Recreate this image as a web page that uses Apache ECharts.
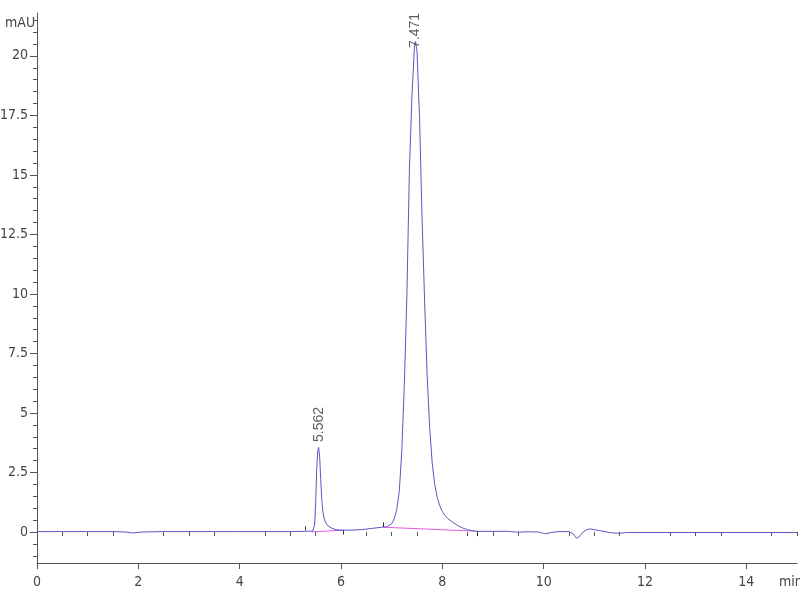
<!DOCTYPE html>
<html>
<head>
<meta charset="utf-8">
<script src="https://cdn.jsdelivr.net/npm/echarts@6/dist/echarts.min.js"></script>
<style>
  html, body { margin: 0; padding: 0; background: #fff; }
  #chart { width: 800px; height: 600px; }
</style>
</head>
<body>
<div id="chart"></div>
<script>
// chromatogram trace (time in min, signal in mAU)
var times = [
  0, 0.5, 1.0, 1.5, 1.75, 1.9, 2.05, 2.5, 3.0, 3.5, 4.0, 4.5, 5.0, 5.3, 5.44,
  5.48, 5.50, 5.52, 5.54, 5.56, 5.58, 5.60, 5.62, 5.64, 5.67, 5.70, 5.75, 5.82, 5.90,
  6.00, 6.20, 6.40, 6.60, 6.80, 6.90, 7.00, 7.05, 7.10, 7.15, 7.20, 7.25, 7.30, 7.35,
  7.40, 7.45, 7.47, 7.50, 7.55, 7.60, 7.65, 7.70, 7.75, 7.80, 7.85, 7.90, 7.95, 8.00,
  8.05, 8.10, 8.20, 8.30, 8.40, 8.50, 8.60, 8.70, 9.0, 9.3, 9.45, 9.55, 9.7, 9.9, 10.0,
  10.05, 10.15, 10.3, 10.5, 10.58, 10.65, 10.7, 10.78, 10.85, 10.92, 11.0, 11.15, 11.3,
  11.45, 11.55, 11.65, 12.0, 13.0, 13.7, 15.0
];
var signal = [
  0.02, 0.02, 0.02, 0.02, 0.0, -0.04, 0.0, 0.02, 0.02, 0.02, 0.02, 0.02, 0.02, 0.03, 0.04,
  0.3, 1.2, 2.6, 3.4, 3.55, 3.1, 2.2, 1.4, 0.9, 0.55, 0.38, 0.25, 0.16, 0.1,
  0.08, 0.08, 0.1, 0.15, 0.2, 0.22, 0.35, 0.55, 0.95, 1.7, 3.4, 6.2, 9.9, 15.2,
  18.3, 20.4, 20.6, 20.2, 17.4, 13.2, 9.7, 6.6, 4.4, 2.9, 2.0, 1.45, 1.1, 0.86,
  0.7, 0.58, 0.42, 0.28, 0.17, 0.1, 0.05, 0.03, 0.03, 0.03, 0.0, 0.0, 0.01, 0.0, -0.06,
  -0.07, -0.02, 0.02, 0.02, -0.08, -0.26, -0.2, 0.0, 0.1, 0.13, 0.1, 0.04, -0.02,
  -0.05, -0.04, -0.02, -0.02, -0.02, -0.02, -0.02
];

// integration baselines [t0, y0, t1, y1]
var baselines = [
  [5.43, 0.01, 6.05, 0.08],
  [6.85, 0.2, 8.65, 0.04]
];
// integration event marks [t, yTop, yBottom]
var events = [
  [5.29, 0.24, 0.07],
  [6.05, 0.07, -0.11],
  [6.84, 0.41, 0.21],
  [8.68, 0.04, -0.17]
];

// peak labels
var peakTimes = [5.562, 7.471];
var peakLabelY = [3.7, 20.25];
var peakNames = ['5.562', '7.471'];

// axis ticks
var xMajor = [0, 2, 4, 6, 8, 10, 12, 14];
var xMinor = [0.5, 1, 1.5, 2.5, 3, 3.5, 4.5, 5, 5.5, 6.5, 7, 7.5, 8.5, 9, 9.5,
  10.5, 11, 11.5, 12.5, 13, 13.5, 14.5, 15];
var yMajor = [0, 2.5, 5, 7.5, 10, 12.5, 15, 17.5, 20];
var yMinor = [-1, -0.5, 0.5, 1, 1.5, 2, 3, 3.5, 4, 4.5, 5.5, 6, 6.5, 7, 8, 8.5, 9, 9.5,
  10.5, 11, 11.5, 12, 13, 13.5, 14, 14.5, 15.5, 16, 16.5, 17, 18, 18.5, 19, 19.5,
  20.5, 21, 21.5];

var X_MIN = 0, X_MAX = 15, Y_MIN = -1.3, Y_MAX = 21.8;
var axisColor = '#555';
var fontStack = '"DejaVu Sans Condensed", "Liberation Sans", sans-serif';
var labelFont = { color: '#444', fontSize: 14, fontFamily: fontStack };

var chart = echarts.init(document.getElementById('chart'));

var trace = times.map(function (t, i) { return [t, signal[i]]; });

var series = [{
  type: 'line',
  data: trace,
  showSymbol: false,
  symbol: 'none',
  lineStyle: { color: '#5858c4', width: 1 },
  z: 3,
  animation: false
}];

baselines.forEach(function (b) {
  series.push({
    type: 'line',
    data: [[b[0], b[1]], [b[2], b[3]]],
    symbol: 'none',
    lineStyle: { color: '#e05ce0', width: 1 },
    z: 2,
    animation: false
  });
});

series.push({
  type: 'line',
  data: [],
  symbol: 'none',
  markLine: {
    symbol: 'none',
    silent: true,
    animation: false,
    label: { show: false },
    lineStyle: { color: '#333', width: 1, type: 'solid' },
    data: events.map(function (e) {
      return [{ coord: [e[0], e[1]] }, { coord: [e[0], e[2]] }];
    })
  }
});

series.push({
  type: 'scatter',
  symbolSize: 0,
  data: peakTimes.map(function (t, i) { return [t, peakLabelY[i], peakNames[i]]; }),
  label: {
    show: true,
    position: 'top',
    distance: 2,
    rotate: 90,
    align: 'left',
    verticalAlign: 'middle',
    color: '#333',
    fontSize: 14,
    fontFamily: '"Liberation Sans", Arial, sans-serif',
    formatter: function (p) { return p.value[2]; }
  },
  z: 5,
  animation: false
});

chart.setOption({
  backgroundColor: '#fff',
  animation: false,
  grid: { left: 37, right: 3, top: 13, bottom: 37, containLabel: false, outerBoundsMode: 'none' },
  xAxis: [{
    type: 'value',
    min: X_MIN,
    max: X_MAX,
    splitLine: { show: false },
    axisLine: { onZero: false, lineStyle: { color: axisColor, width: 1 } },
    axisTick: { customValues: xMajor, length: 6, lineStyle: { color: axisColor } },
    axisLabel: Object.assign({ customValues: xMajor, margin: 12 }, labelFont)
  }, {
    type: 'value',
    position: 'bottom',
    min: X_MIN,
    max: X_MAX,
    splitLine: { show: false },
    axisLine: { show: false },
    axisTick: { customValues: xMinor, length: 4, lineStyle: { color: axisColor } },
    axisLabel: { show: false }
  }],
  yAxis: [{
    type: 'value',
    min: Y_MIN,
    max: Y_MAX,
    splitLine: { show: false },
    axisLine: { show: true, onZero: false, lineStyle: { color: axisColor, width: 1 } },
    axisTick: { show: true, customValues: yMajor, length: 7, lineStyle: { color: axisColor } },
    axisLabel: Object.assign({ customValues: yMajor, margin: 9 }, labelFont)
  }, {
    type: 'value',
    position: 'left',
    min: Y_MIN,
    max: Y_MAX,
    splitLine: { show: false },
    axisLine: { show: false },
    axisTick: { show: true, customValues: yMinor, length: 4, lineStyle: { color: axisColor } },
    axisLabel: { show: false }
  }],
  graphic: [{
    type: 'text',
    left: 5,
    top: 16,
    style: { text: 'mAU', fill: '#444', font: '14px ' + fontStack }
  }, {
    type: 'text',
    left: 779,
    top: 575,
    style: { text: 'min', fill: '#444', font: '14px ' + fontStack }
  }],
  series: series
});
</script>
</body>
</html>
